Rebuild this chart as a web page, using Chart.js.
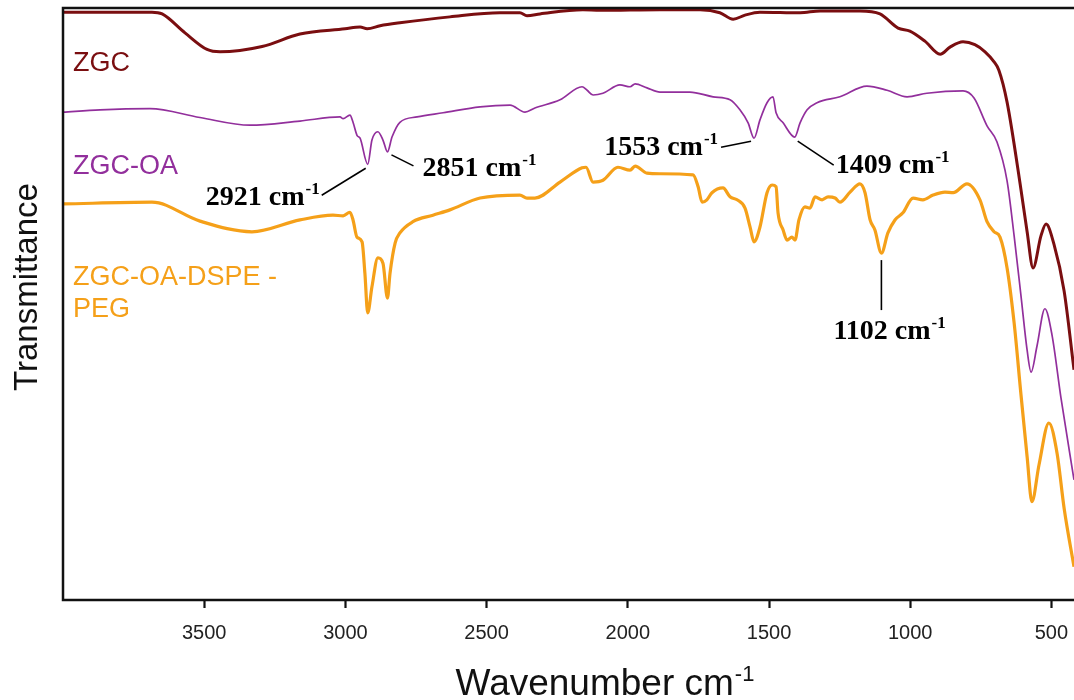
<!DOCTYPE html>
<html>
<head>
<meta charset="utf-8">
<title>FTIR spectra</title>
<script src="https://cdn.jsdelivr.net/npm/chart.js@4.4.1/dist/chart.umd.min.js"></script>
<style>
  html, body { margin: 0; padding: 0; background: #fff; overflow: hidden; }
  canvas { display: block; }
</style>
</head>
<body>
<canvas id="ftirChart" width="1074" height="700"></canvas>
<script>
// wavenumber (cm-1) / transmittance (offset, a.u.) read per sample
const wavenumberZGC = [4000, 3685, 3649, 3568, 3490, 3444, 3295, 3161, 3001, 2948, 2923, 2877, 2807, 2630, 2453, 2382, 2357, 2311, 2159, 2098, 1886, 1744, 1674, 1627, 1585, 1532, 1390, 1319, 1178, 1107, 1043, 1001, 948, 894, 859, 813, 771, 735, 703, 686, 657, 608, 586, 565, 537, 519, 491, 455, 420];
const transZGC = [99.3, 99.3, 99.0, 95.8, 93.0, 92.6, 93.5, 95.6, 96.5, 96.8, 96.5, 97.0, 97.5, 98.5, 99.2, 99.2, 98.7, 99.0, 99.7, 99.6, 99.7, 99.7, 99.2, 98.1, 98.8, 99.3, 99.2, 99.5, 99.5, 99.0, 96.6, 96.1, 94.4, 92.2, 93.4, 94.3, 93.8, 92.6, 90.9, 89.5, 84.1, 69.4, 62.2, 56.1, 61.5, 63.5, 60.1, 52.2, 38.9];

const wavenumberOA = [4000, 3869, 3692, 3515, 3338, 3161, 3019, 3008, 2984, 2973, 2959, 2948, 2921, 2906, 2885, 2867, 2851, 2835, 2807, 2746, 2654, 2523, 2417, 2364, 2329, 2240, 2162, 2144, 2123, 2088, 2028, 1992, 1974, 1932, 1886, 1780, 1698, 1638, 1603, 1574, 1553, 1532, 1507, 1486, 1475, 1450, 1409, 1390, 1365, 1330, 1249, 1153, 1082, 1011, 941, 813, 774, 728, 693, 657, 632, 608, 586, 572, 551, 523, 498, 466, 420];
const transOA = [82.4, 82.8, 83.0, 81.5, 80.2, 80.9, 81.6, 81.3, 81.9, 80.7, 78.5, 78.0, 73.6, 77.7, 79.1, 77.7, 75.7, 78.2, 80.7, 81.6, 82.3, 83.3, 83.6, 82.4, 83.1, 84.5, 86.7, 86.1, 85.3, 85.6, 87.0, 86.7, 87.2, 86.5, 85.8, 85.8, 85.0, 84.5, 82.8, 80.6, 78.0, 81.1, 84.0, 85.0, 82.3, 80.6, 78.2, 80.6, 82.8, 84.0, 85.0, 86.8, 86.1, 85.0, 85.6, 86.0, 84.8, 80.1, 77.4, 70.8, 61.5, 51.5, 42.2, 38.5, 42.9, 49.2, 44.8, 34.1, 20.3];

const wavenumberPEG = [4000, 3685, 3515, 3331, 3161, 3044, 3008, 2984, 2973, 2959, 2941, 2931, 2921, 2906, 2885, 2867, 2851, 2842, 2824, 2807, 2761, 2690, 2630, 2523, 2382, 2357, 2329, 2240, 2162, 2148, 2123, 2088, 2035, 1992, 1974, 1932, 1886, 1769, 1751, 1737, 1720, 1702, 1663, 1638, 1613, 1585, 1567, 1553, 1532, 1507, 1489, 1475, 1468, 1450, 1436, 1419, 1408, 1394, 1373, 1355, 1337, 1312, 1291, 1266, 1249, 1213, 1178, 1160, 1142, 1125, 1102, 1079, 1054, 1026, 990, 955, 919, 877, 848, 799, 753, 728, 703, 682, 657, 632, 608, 586, 569, 544, 509, 480, 455, 420];
const transPEG = [66.9, 67.2, 64.0, 62.2, 64.2, 65.0, 64.9, 65.5, 64.2, 61.3, 60.5, 55.2, 48.5, 52.9, 57.8, 56.9, 51.0, 55.2, 60.3, 62.0, 63.9, 65.0, 65.9, 67.9, 68.4, 67.9, 67.9, 70.6, 73.0, 73.1, 70.6, 70.9, 73.1, 72.6, 73.3, 72.1, 72.0, 71.8, 69.8, 67.2, 67.6, 68.8, 69.6, 68.1, 67.6, 66.2, 63.0, 60.5, 63.0, 68.8, 70.1, 69.8, 65.4, 62.5, 60.8, 61.3, 60.8, 64.2, 66.4, 66.2, 68.1, 67.6, 68.1, 67.9, 67.2, 68.9, 70.3, 68.8, 64.2, 62.5, 58.6, 62.0, 64.2, 65.4, 67.9, 67.6, 68.4, 68.9, 68.8, 70.3, 67.6, 63.9, 62.2, 61.3, 56.1, 46.8, 34.8, 24.2, 16.6, 22.8, 29.9, 24.8, 15.5, 5.6];

const seriesNames = ['ZGC', 'ZGC-OA', 'ZGC-OA-DSPE -\nPEG'];
const seriesColors = ['#7a0e10', '#922f9c', '#f5a019'];
const xTickValues = [500, 1000, 1500, 2000, 2500, 3000, 3500];

// labelled bands: wavenumber and the spectrum (dataset index) they sit on
const peakWavenumbers = [2921, 2851, 1553, 1409, 1102];
const peakSeries = [1, 1, 1, 1, 2];

const sansFont = "'Liberation Sans', Arial, Helvetica, sans-serif";
const serifFont = "'Liberation Serif', 'Times New Roman', serif";

function toPoints(xs, ys) {
    let pts = [];
    for (let i = 0; i < xs.length; i++) {
        pts.push({ x: xs[i], y: ys[i] });
    }
    return pts;
}

// text with a trailing superscript, e.g. "cm" + "-1"
function drawSupText(ctx, base, sup, x, y, font, supFont, rise, align) {
    ctx.font = font;
    let w1 = ctx.measureText(base).width;
    ctx.font = supFont;
    let w2 = ctx.measureText(sup).width;
    let total = w1 + w2 + 1;
    let left = x;
    if (align === 'center') left = x - total / 2;
    else if (align === 'right') left = x - total;
    ctx.textAlign = 'left';
    ctx.textBaseline = 'alphabetic';
    ctx.font = font;
    ctx.fillText(base, left, y);
    ctx.font = supFont;
    ctx.fillText(sup, left + w1 + 1, y - rise);
}

// callout placement relative to each band's point (line from, line to, text anchor)
const calloutLayout = [
    { l1: [-2, 4], l2: [-46, 31], t: [-48, 41], align: 'right' },
    { l1: [4, 3], l2: [26, 14], t: [35, 24], align: 'left' },
    { l1: [-3, 3], l2: [-33, 9], t: [-36, 17], align: 'right' },
    { l1: [3, 4], l2: [39, 28], t: [41, 36], align: 'left' },
    { l1: [0, 7], l2: [0, 57], t: [-48, 86], align: 'left' }
];

const decorPlugin = {
    id: 'decor',
    afterDatasetsDraw(chart) {
        const ctx = chart.ctx;
        const area = chart.chartArea;
        const xs = chart.scales.x;
        const ys = chart.scales.y;
        ctx.save();

        // frame: left, top, bottom (right side runs off the page)
        ctx.strokeStyle = '#111';
        ctx.lineWidth = 2.5;
        ctx.beginPath();
        ctx.moveTo(chart.width, area.top);
        ctx.lineTo(area.left, area.top);
        ctx.lineTo(area.left, area.bottom);
        ctx.lineTo(chart.width, area.bottom);
        ctx.stroke();

        // sample names
        const nameBaselines = [71, 174, 285];
        ctx.font = '27px ' + sansFont;
        ctx.textAlign = 'left';
        ctx.textBaseline = 'alphabetic';
        seriesNames.forEach((name, i) => {
            ctx.fillStyle = seriesColors[i];
            name.split('\n').forEach((line, j) => {
                ctx.fillText(line, area.left + 10, nameBaselines[i] + j * 32);
            });
        });

        // band callouts
        ctx.fillStyle = '#000';
        ctx.strokeStyle = '#000';
        ctx.lineWidth = 1.6;
        const sets = [wavenumberZGC, wavenumberOA, wavenumberPEG];
        const vals = [transZGC, transOA, transPEG];
        peakWavenumbers.forEach((wn, i) => {
            const s = peakSeries[i];
            const idx = sets[s].indexOf(wn);
            const px = xs.getPixelForValue(wn);
            const py = ys.getPixelForValue(vals[s][idx]);
            const c = calloutLayout[i];
            ctx.beginPath();
            ctx.moveTo(px + c.l1[0], py + c.l1[1]);
            ctx.lineTo(px + c.l2[0], py + c.l2[1]);
            ctx.stroke();
            drawSupText(ctx, wn + ' cm', '-1', px + c.t[0], py + c.t[1],
                'bold 28px ' + serifFont, 'bold 17px ' + serifFont, 11, c.align);
        });

        // axis titles
        ctx.fillStyle = '#111';
        drawSupText(ctx, 'Wavenumber cm', '-1', 605, 695,
            '37px ' + sansFont, '22px ' + sansFont, 14, 'center');

        ctx.translate(37, 287);
        ctx.rotate(-Math.PI / 2);
        ctx.font = '33px ' + sansFont;
        ctx.textAlign = 'center';
        ctx.textBaseline = 'alphabetic';
        ctx.fillText('Transmittance', 0, 0);

        ctx.restore();
    }
};

document.addEventListener('DOMContentLoaded', () => {
    const ctx = document.getElementById('ftirChart');

    const datasets = [
        { label: 'ZGC', data: toPoints(wavenumberZGC, transZGC), borderColor: seriesColors[0], borderWidth: 3 },
        { label: 'ZGC-OA', data: toPoints(wavenumberOA, transOA), borderColor: seriesColors[1], borderWidth: 1.7 },
        { label: 'ZGC-OA-DSPE-PEG', data: toPoints(wavenumberPEG, transPEG), borderColor: seriesColors[2], borderWidth: 3.2 }
    ];
    datasets.forEach(d => {
        d.pointRadius = 0;
        d.fill = false;
        d.cubicInterpolationMode = 'monotone';
    });

    new Chart(ctx, {
        type: 'line',
        data: { datasets: datasets },
        options: {
            responsive: false,
            animation: false,
            layout: { padding: { left: 63, top: 8, right: 0, bottom: 0 } },
            plugins: {
                legend: { display: false },
                tooltip: { enabled: false }
            },
            scales: {
                x: {
                    type: 'linear',
                    reverse: true,
                    min: 420,
                    max: 4000,
                    afterBuildTicks: (scale) => {
                        scale.ticks = xTickValues.map(v => ({ value: v }));
                    },
                    afterFit: (scale) => { scale.height = 100; },
                    ticks: {
                        autoSkip: false,
                        maxRotation: 0,
                        padding: 13,
                        color: '#222',
                        font: { family: sansFont, size: 20 },
                        callback: (value) => String(value)
                    },
                    grid: {
                        drawOnChartArea: false,
                        drawTicks: true,
                        tickLength: 8,
                        tickWidth: 2.2,
                        tickColor: '#111'
                    },
                    border: { display: false }
                },
                y: {
                    display: false,
                    min: 0,
                    max: 100
                }
            }
        },
        plugins: [decorPlugin]
    });
});
</script>
</body>
</html>
